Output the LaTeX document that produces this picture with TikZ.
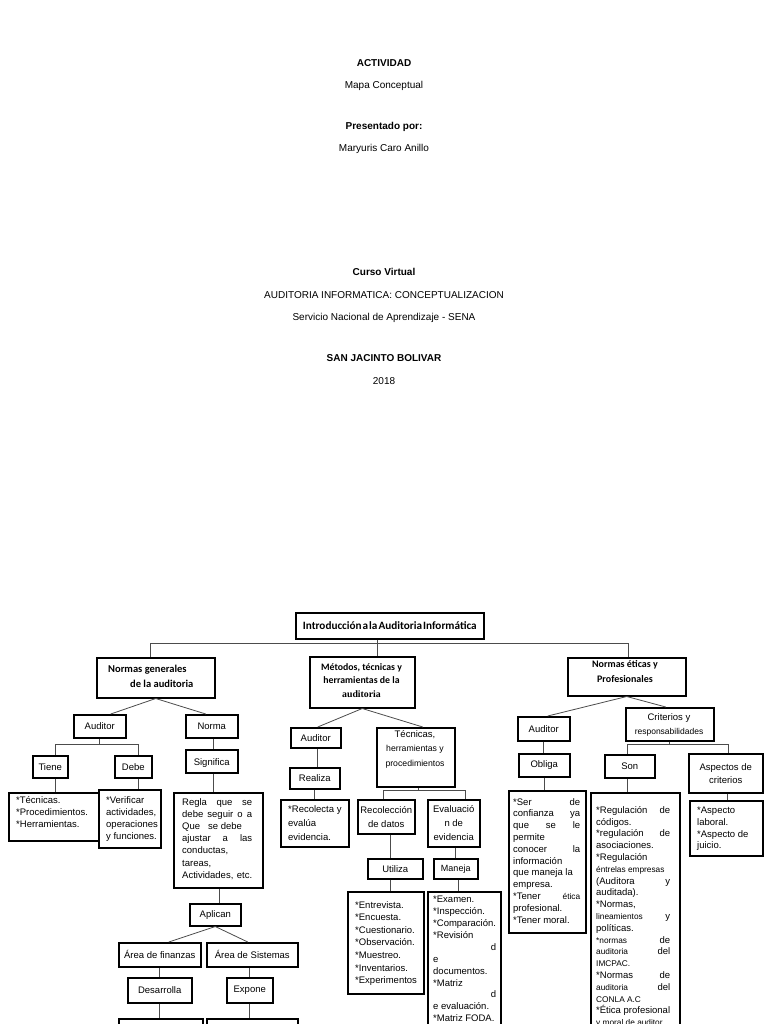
\documentclass[tikz,border=0pt]{standalone}
\usepackage{fontspec}
\setmainfont{Liberation Sans}
\newfontfamily\hfont{Carlito}
\newfontfamily\serfont{Liberation Serif}
\newcommand\J[1]{\makebox[\jw][s]{#1}}
\newcommand\sm{\fontsize{8.3}{11.8}\selectfont}
\newcommand\mkbox[5]{\node[box, anchor=north west, minimum width={#4pt-#2pt}, minimum height={#5pt-#3pt}] (#1) at (#2,#3) {};}
\def\jw{60pt}
\tikzset{
  box/.style={draw=black, line width=1.5pt, inner sep=0pt},
  con/.style={draw=black!70, line width=0.8pt},
  ti/.style={inner sep=0pt, font=\fontsize{10}{12}\selectfont},
  tib/.style={inner sep=0pt, font=\bfseries\fontsize{10}{12}\selectfont},
  tx/.style={inner sep=0pt, align=center, font=\fontsize{9.5}{13}\selectfont},
  tl/.style={inner sep=0pt, anchor=north west, align=left, font=\fontsize{9.5}{12}\selectfont},
  hd/.style={inner sep=0pt, align=center, font=\hfont\bfseries\fontsize{10.5}{15}\selectfont},
}
\begin{document}
\begin{tikzpicture}[x=1pt,y=-1pt]
\useasboundingbox (0,0) rectangle (768,1024);
\fill[white] (0,0) rectangle (768,1024);
\clip (0,0) rectangle (768,1024);

% ---------- title page ----------
\node[tib] (t1) at (384,63) {ACTIVIDAD};
\node[ti]  (t2) at (384,86) {Mapa Conceptual};
\node[tib] (t3) at (384,127) {Presentado por:};
\node[ti]  (t4) at (384,149) {Maryuris Caro Anillo};
\node[tib] (t5) at (384,272) {Curso Virtual};
\node[ti]  (t6) at (384,295) {AUDITORIA INFORMATICA: CONCEPTUALIZACION};
\node[ti]  (t7) at (384,318) {Servicio Nacional de Aprendizaje - SENA};
\node[tib] (t8) at (384,358) {SAN JACINTO BOLIVAR};
\node[ti]  (t9) at (384,381) {2018};

% ---------- level 0/1 ----------
\mkbox{root}{295}{612}{483}{638}
\node[hd, font=\hfont\bfseries\fontsize{11.2}{15}\selectfont] (roott) at (root) {Introducción\hspace{1pt}a\hspace{1pt}la\hspace{1pt}Auditoria\hspace{1pt}Informática};
\mkbox{ng}{96}{657}{214}{697}
\node[hd, anchor=west, align=left] (ngt) at (108,676) {Normas generales\\\hspace*{22pt}de la auditoria};
\mkbox{met}{309}{656}{414}{707}
\node[hd, font=\hfont\bfseries\fontsize{9.8}{13.5}\selectfont] (mett) at (361.5,680.5) {Métodos, técnicas y\\herramientas de la\\{\serfont\bfseries auditoria}};
\mkbox{ne}{567}{657}{685}{695}
\node[hd, font=\hfont\bfseries\fontsize{10}{15}\selectfont] (net) at (625,671.5) {Normas éticas y\\Profesionales};

% ---------- level 2 ----------
\mkbox{aud1}{73}{714}{125}{737}  \node[tx] (aud1t) at (aud1) {Auditor};
\mkbox{nor}{185}{714}{237}{737}  \node[tx] (nort) at (nor) {Norma};
\mkbox{aud2}{290}{727}{340}{747} \node[tx] (aud2t) at (aud2) {Auditor};
\mkbox{tec}{376}{727}{454}{786}
\node[tx, font=\fontsize{8.7}{14.5}\selectfont] (tect) at (415,749) {{\fontsize{9.5}{14.5}\selectfont Técnicas,}\\herramientas y\\procedimientos};
\mkbox{aud3}{517}{716}{569}{740} \node[tx] (aud3t) at (aud3) {Auditor};
\mkbox{cri}{625}{707}{713}{740}
\node[tx, font=\fontsize{8.5}{14}\selectfont] (crit) at (669,725) {{\fontsize{9.5}{14}\selectfont Criterios y}\\responsabilidades};

% ---------- left branch ----------
\mkbox{tie}{32}{755}{67}{777}  \node[tx] (tiet) at (tie) {Tiene};
\mkbox{deb}{114}{755}{151}{777} \node[tx] (debt) at (deb) {Debe};
\mkbox{sig}{185}{749}{237}{772} \node[tx] (sigt) at ([yshift=-1.5]sig.center) {Significa};
\mkbox{tb1}{8}{792}{98}{840}
\node[tl] (tb1t) at ([shift={(8,4)}]tb1.north west) {*Técnicas.\\*Procedimientos.\\*Herramientas.};
\mkbox{tb2}{98}{789}{160}{847}
\node[tl, font=\fontsize{9.5}{12.3}\selectfont] (tb2t) at ([shift={(8,7)}]tb2.north west) {*Verificar\\actividades,\\operaciones\\y funciones.};
\mkbox{regla}{173}{792}{262}{887}
\gdef\jw{70pt}
\node[tl, font=\fontsize{9.5}{12.2}\selectfont] (reglat) at ([shift={(9,6)}]regla.north west) {\J{Regla que se}\\\J{debe seguir o a}\\Que\hspace{8pt}se debe\\\J{ajustar a las}\\conductas,\\tareas,\\\J{Actividades, etc.}};
\mkbox{apl}{189}{903}{240}{925}  \node[tx] (aplt) at (apl) {Aplican};
\mkbox{fin}{118}{942}{200}{966}  \node[tx] (fint) at (fin) {Área de finanzas};
\mkbox{sis}{206}{942}{297}{966}  \node[tx] (sist) at (sis) {Área de Sistemas};
\mkbox{des}{127}{977}{191}{1002} \node[tx] (dest) at (des) {Desarrolla};
\mkbox{exp}{226}{977}{272}{1002} \node[tx] (expt) at (exp) {Expone};
\mkbox{bot1}{118}{1018}{202}{1060}
\mkbox{bot2}{206}{1018}{297}{1060}

% ---------- middle branch ----------
\mkbox{rea}{289}{767}{339}{788} \node[tx] (reat) at (rea) {Realiza};
\mkbox{rec}{280}{799}{348}{846}
\node[tl, font=\fontsize{9.5}{14}\selectfont] (rect) at ([shift={(8,6)}]rec.north west) {*Recolecta y\\evalúa\\evidencia.};
\mkbox{rcd}{357}{799}{414}{833}
\node[tx, font=\fontsize{9.5}{14}\selectfont] (rcdt) at (rcd) {Recolección\\de datos};
\mkbox{eva}{427}{799}{479}{846}
\node[tx, font=\fontsize{9.5}{14}\selectfont] (evat) at (eva) {Evaluació\\n de\\evidencia};
\mkbox{uti}{367}{858}{422}{878} \node[tx] (utit) at (uti) {Utiliza};
\mkbox{man}{433}{858}{477}{878} \node[tx, font=\fontsize{9}{13}\selectfont] (mant) at (man) {Maneja};
\mkbox{ent}{347}{891}{423}{993}
\node[tl, font=\fontsize{9.5}{12.6}\selectfont] (entt) at ([shift={(8,10)}]ent.north west) {*Entrevista.\\*Encuesta.\\*Cuestionario.\\*Observación.\\*Muestreo.\\*Inventarios.\\*Experimentos};
\mkbox{exa}{427}{891}{500}{1060}
\gdef\jw{63pt}
\node[tl, font=\fontsize{9.5}{11.9}\selectfont] (exat) at ([shift={(6,5)}]exa.north west) {*Examen.\\*Inspección.\\*Comparación.\\*Revisión\\\J{\hfill d}\\e\\documentos.\\*Matriz\\\J{\hfill d}\\e evaluación.\\*Matriz FODA.};

% ---------- right branch ----------
\mkbox{obl}{518}{753}{569}{776} \node[tx] (oblt) at (obl) {Obliga};
\mkbox{ser}{508}{790}{585}{932}
\gdef\jw{67pt}
\node[tl, font=\fontsize{9.5}{11.8}\selectfont] (sert) at ([shift={(5,8)}]ser.north west) {\J{*Ser de}\\\J{confianza ya}\\\J{que se le}\\permite\\\J{conocer la}\\información\\que maneja la\\empresa.\\\J{*Tener {\sm ética}}\\profesional.\\*Tener moral.};
\mkbox{son}{604}{754}{654}{777} \node[tx] (sont) at (son) {Son};
\mkbox{asp}{688}{753}{762}{792}
\node[tx] (aspt) at (asp) {Aspectos de\\criterios};
\mkbox{reg}{590}{792}{679}{1060}
\gdef\jw{74pt}
\node[tl, font=\fontsize{9.5}{11.8}\selectfont] (regt) at ([shift={(6,14)}]reg.north west) {\J{*Regulación de}\\códigos.\\\J{*regulación de}\\asociaciones.\\*Regulación\\{\sm éntrelas empresas}\\\J{(Auditora y}\\auditada).\\*Normas,\\\J{{\sm lineamientos} y}\\políticas.\\\J{{\sm *normas} de}\\\J{{\sm auditoria} del}\\{\sm IMCPAC.}\\\J{*Normas de}\\\J{{\sm auditoria} del}\\{\sm CONLA A.C}\\*Ética profesional\\{\sm y moral de auditor}};
\mkbox{aspb}{689}{800}{762}{855}
\node[tl, font=\fontsize{9.5}{11.7}\selectfont] (aspbt) at ([shift={(8,7)}]aspb.north west) {*Aspecto\\laboral.\\*Aspecto de\\juicio.};

% ---------- connectors ----------
\draw[con] ([xshift=-12]root.south) -- ([xshift=15.5]met.north);
\draw[con] ([xshift=-5]ng.north) -- ++(0,-14) -| ([xshift=2]ne.north);
\draw[con] (ng.south) -- ([xshift=11]aud1.north);
\draw[con] (ng.south) -- ([xshift=-6]nor.north);
\draw[con] (met.south) -- ([xshift=2]aud2.north);
\draw[con] (met.south) -- ([xshift=7]tec.north);
\draw[con] (ne.south) -- ([xshift=4]aud3.north);
\draw[con] (ne.south) -- ([xshift=-4]cri.north);

\draw[con] (aud1.south) -- ++(0,6) coordinate (j1);
\draw[con] ([xshift=5.5]tie.north) |- (j1) -| ([xshift=5.5]deb.north);
\draw[con] ([xshift=5.5]tie.south) -- ([xshift=5.5]tie.south |- tb1.north);
\draw[con] ([xshift=5.5]deb.south) -- ([xshift=5.5]deb.south |- tb2.north);
\draw[con] ([xshift=2]nor.south) -- ([xshift=2]sig.north);
\draw[con] ([xshift=2]sig.south) -- ([xshift=2]sig.south |- regla.north);
\draw[con] ([xshift=4.5]apl.north) -- ([xshift=4.5]apl.north |- regla.south);
\draw[con] (apl.south) -- ([xshift=9]fin.north);
\draw[con] (apl.south) -- ([xshift=-4.5]sis.north);
\draw[con] (des.north) -- (des.north |- fin.south);
\draw[con] (exp.north) -- (exp.north |- sis.south);
\draw[con] (des.south) -- (des.south |- bot1.north);
\draw[con] (exp.south) -- (exp.south |- bot2.north);

\draw[con] ([xshift=2]aud2.south) -- ([xshift=2]aud2.south |- rea.north);
\draw[con] (rea.south) -- (rea.south |- rec.north);
\draw[con] ([xshift=3]tec.south) -- ++(0,3) coordinate (j2);
\draw[con] ([xshift=-2.5]rcd.north) |- (j2) -| ([xshift=12]eva.north);
\draw[con] ([xshift=4.5]rcd.south) -- ([xshift=4.5]rcd.south |- uti.north);
\draw[con] ([xshift=-4.5]uti.south) -- ([xshift=-4.5]uti.south |- ent.north);
\draw[con] ([xshift=2]eva.south) -- ([xshift=2]eva.south |- man.north);
\draw[con] ([xshift=3]man.south) -- ([xshift=3]man.south |- exa.north);

\draw[con] (aud3.south) -- (aud3.south |- obl.north);
\draw[con] (obl.south) -- (obl.south |- ser.north);
\draw[con] (cri.south) -- ++(0,3) coordinate (j3);
\draw[con] ([xshift=-2]son.north) |- (j3) -| ([xshift=3]asp.north);
\draw[con] ([xshift=-2]son.south) -- ([xshift=-2]son.south |- reg.north);
\draw[con] ([xshift=2]asp.south) -- ([xshift=2]asp.south |- aspb.north);
\end{tikzpicture}
\end{document}
